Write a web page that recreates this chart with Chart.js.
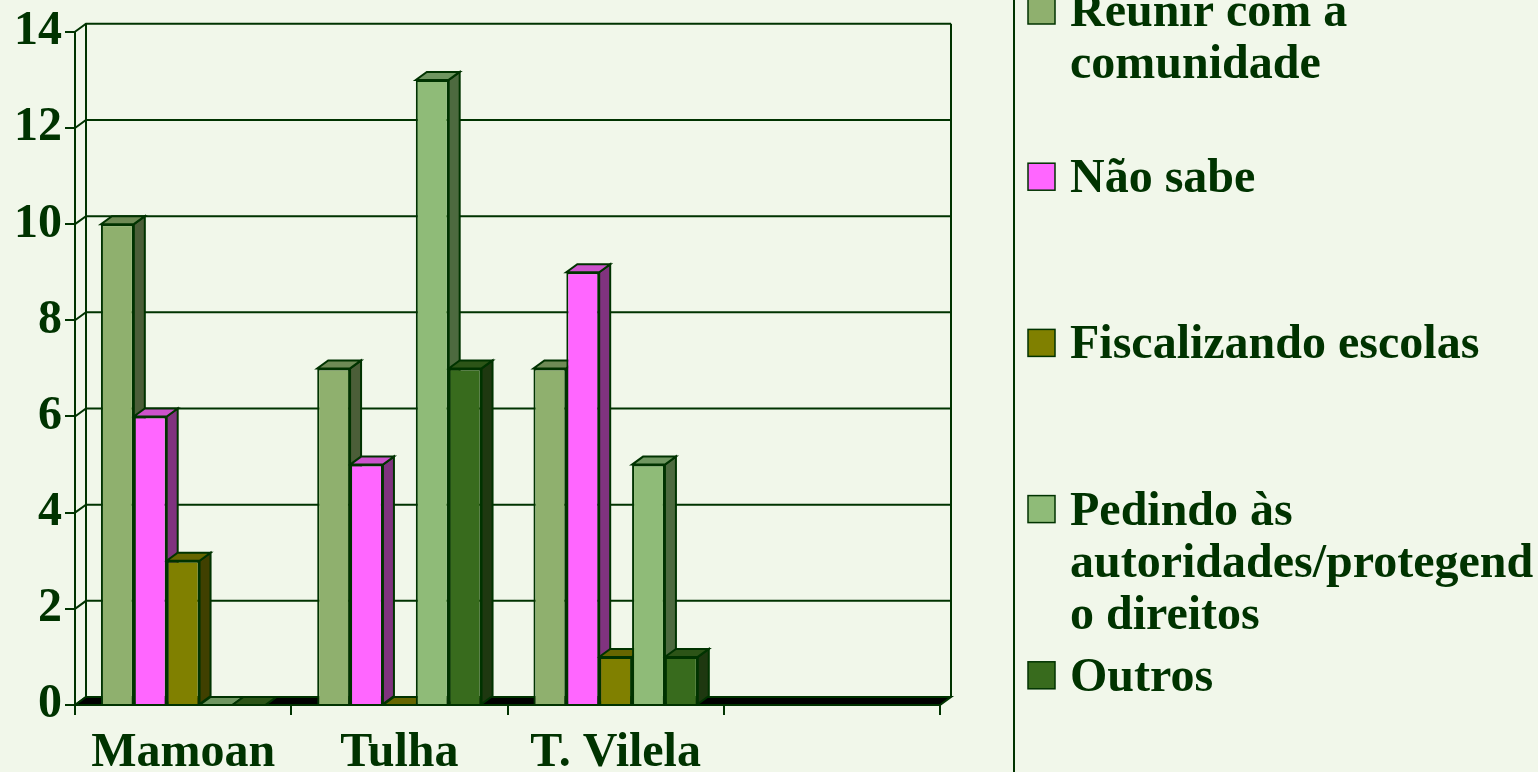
<!DOCTYPE html>
<html>
<head>
<meta charset="utf-8">
<title>Chart</title>
<script src="https://cdn.jsdelivr.net/npm/chart.js@4/dist/chart.umd.min.js"></script>
<style>
    html, body {
        margin: 0;
        padding: 0;
        background: #F1F7EA;
    }
    #wrap {
        width: 1538px;
        height: 772px;
        position: relative;
    }
</style>
</head>
<body>
<div id="wrap"><canvas id="mainChart"></canvas></div>
<script>
const categories = ['Mamoan', 'Tulha', 'T. Vilela', ''];

const seriesNames = [
    ['Reunir com a', 'comunidade'],
    ['Não sabe'],
    ['Fiscalizando escolas'],
    ['Pedindo às', 'autoridades/protegend', 'o direitos'],
    ['Outros']
];

// the fourth category is empty in the original
const reunirValues = [10, 7, 7];
const naoSabeValues = [6, 5, 9];
const fiscalizandoValues = [3, 0, 1];
const pedindoValues = [0, 13, 5];
const outrosValues = [0, 7, 1];

const yTicks = [0, 2, 4, 6, 8, 10, 12, 14];

const frontColors = ['#8FB06E', '#FF66FF', '#808000', '#8FBB78', '#386B1D'];
const sideColors = ['#4B5E38', '#80337F', '#404000', '#4D6A3F', '#1E3810'];
const topColors = ['#6E8A55', '#CC52CC', '#666600', '#6F9660', '#2C5417'];

const INK = '#003300';
const FONT = '"Liberation Serif", "Times New Roman", serif';
const DX = 11, DY = 8;

// back wall, floor and the side/top faces of each bar
const depthPlugin = {
    id: 'depth',
    beforeDatasetsDraw(chart) {
        const ctx = chart.ctx;
        const a = chart.chartArea;
        const y = chart.scales.y;
        ctx.save();
        ctx.strokeStyle = INK;
        ctx.lineWidth = 2;

        y.ticks.forEach(t => {
            const py = y.getPixelForValue(t.value);
            ctx.beginPath();
            ctx.moveTo(a.left, py);
            ctx.lineTo(a.left + DX, py - DY);
            ctx.lineTo(a.right + DX, py - DY);
            ctx.stroke();
        });

        ctx.beginPath();
        ctx.moveTo(a.left + DX, a.top - DY);
        ctx.lineTo(a.left + DX, a.bottom - DY);
        ctx.moveTo(a.right + DX, a.top - DY);
        ctx.lineTo(a.right + DX, a.bottom - DY);
        ctx.stroke();

        // floor
        ctx.fillStyle = '#000000';
        ctx.beginPath();
        ctx.moveTo(a.left, a.bottom);
        ctx.lineTo(a.right, a.bottom);
        ctx.lineTo(a.right + DX, a.bottom - DY);
        ctx.lineTo(a.left + DX, a.bottom - DY);
        ctx.closePath();
        ctx.fill();
        ctx.stroke();

        const bars = [];
        chart.data.datasets.forEach((ds, i) => {
            chart.getDatasetMeta(i).data.forEach(el => bars.push({ el, i }));
        });
        bars.sort((p, q) => p.el.x - q.el.x);

        bars.forEach(({ el, i }) => {
            const p = el.getProps(['x', 'y', 'base', 'width'], true);
            const l = p.x - p.width / 2;
            const r = p.x + p.width / 2;
            const top = p.y;
            const base = p.base;

            ctx.fillStyle = sideColors[i];
            ctx.beginPath();
            ctx.moveTo(r, top);
            ctx.lineTo(r + DX, top - DY);
            ctx.lineTo(r + DX, base - DY);
            ctx.lineTo(r, base);
            ctx.closePath();
            ctx.fill();
            ctx.stroke();

            ctx.fillStyle = topColors[i];
            ctx.beginPath();
            ctx.moveTo(l, top);
            ctx.lineTo(r, top);
            ctx.lineTo(r + DX, top - DY);
            ctx.lineTo(l + DX, top - DY);
            ctx.closePath();
            ctx.fill();
            ctx.stroke();
        });
        ctx.restore();
    }
};

// legend on the right, evenly spaced entries
const legendPlugin = {
    id: 'sideLegend',
    afterDraw(chart) {
        const ctx = chart.ctx;
        const boxX = 1014;
        const swatchX = 1028, swatch = 27, textX = 1070;
        const firstBase = 26, step = 166.2, lineGap = 52;
        ctx.save();
        ctx.strokeStyle = INK;
        ctx.lineWidth = 2;
        ctx.beginPath();
        ctx.moveTo(boxX, 0);
        ctx.lineTo(boxX, chart.height);
        ctx.stroke();

        ctx.font = 'bold 48px ' + FONT;
        ctx.textBaseline = 'alphabetic';
        ctx.textAlign = 'left';
        seriesNames.forEach((lines, i) => {
            const baseY = firstBase + i * step;
            ctx.fillStyle = frontColors[i];
            ctx.fillRect(swatchX, baseY - 29, swatch, swatch);
            ctx.lineWidth = 1.5;
            ctx.strokeStyle = INK;
            ctx.strokeRect(swatchX, baseY - 29, swatch, swatch);
            ctx.fillStyle = INK;
            lines.forEach((line, k) => {
                ctx.fillText(line, textX, baseY + k * lineGap);
            });
        });
        ctx.restore();
    }
};

function createChart() {
    const ctx = document.getElementById('mainChart').getContext('2d');
    const allValues = [reunirValues, naoSabeValues, fiscalizandoValues, pedindoValues, outrosValues];

    const data = {
        labels: categories,
        datasets: allValues.map((vals, i) => ({
            label: seriesNames[i].join(' '),
            data: vals,
            backgroundColor: frontColors[i],
            borderColor: INK,
            borderWidth: 2,
            categoryPercentage: 0.76,
            barPercentage: 1.0
        }))
    };

    new Chart(ctx, {
        type: 'bar',
        data: data,
        options: {
            responsive: true,
            maintainAspectRatio: false,
            animation: false,
            layout: {
                padding: { top: 31, right: 598, left: 0, bottom: 0 }
            },
            scales: {
                x: {
                    grid: {
                        display: true,
                        drawOnChartArea: false,
                        drawTicks: true,
                        tickLength: 10,
                        color: INK,
                        lineWidth: 2
                    },
                    border: { display: true, color: INK, width: 2 },
                    ticks: {
                        color: INK,
                        font: { family: FONT, size: 48, weight: 'bold' },
                        padding: 10,
                        maxRotation: 0,
                        autoSkip: false
                    },
                    afterFit(scale) { scale.height = 67; }
                },
                y: {
                    min: yTicks[0],
                    max: yTicks[yTicks.length - 1],
                    afterBuildTicks(scale) {
                        scale.ticks = yTicks.map(v => ({ value: v }));
                    },
                    grid: {
                        display: true,
                        drawOnChartArea: false,
                        drawTicks: true,
                        tickLength: 10,
                        color: INK,
                        lineWidth: 2
                    },
                    border: { display: true, color: INK, width: 2 },
                    ticks: {
                        color: INK,
                        font: { family: FONT, size: 48, weight: 'bold' },
                        padding: 3
                    },
                    afterFit(scale) { scale.width = 75; }
                }
            },
            plugins: {
                legend: { display: false },
                tooltip: { enabled: false }
            }
        },
        plugins: [depthPlugin, legendPlugin]
    });
}

document.addEventListener('DOMContentLoaded', createChart);
</script>
</body>
</html>
